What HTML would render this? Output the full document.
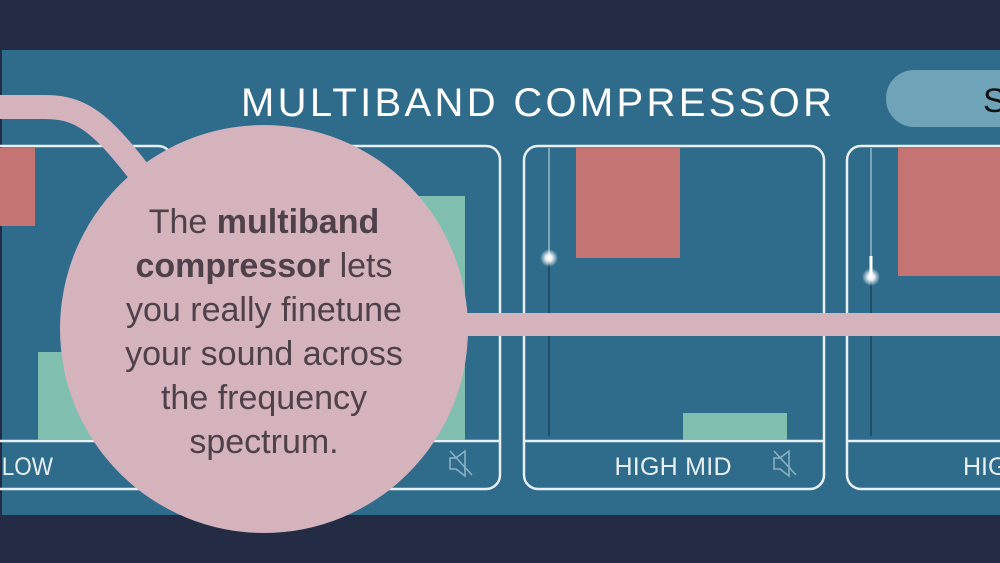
<!DOCTYPE html>
<html><head><meta charset="utf-8"><style>
html,body{margin:0;padding:0;background:#232b45;}
svg{display:block}
</style></head><body>
<svg width="1000" height="563" viewBox="0 0 1000 563" xmlns="http://www.w3.org/2000/svg">
<defs>
<radialGradient id="glow"><stop offset="0" stop-color="#fff"/><stop offset="0.35" stop-color="#fff" stop-opacity="0.9"/><stop offset="1" stop-color="#fff" stop-opacity="0"/></radialGradient>
</defs>
<rect width="1000" height="563" fill="#232b45"/>
<rect x="2" y="50" width="998" height="465" fill="#2f6b8b"/>
<text x="538" y="116" text-anchor="middle" font-family="Liberation Sans, sans-serif" font-size="40" fill="#fff" letter-spacing="3" textLength="594">MULTIBAND COMPRESSOR</text>
<rect x="886" y="70" width="160" height="57" rx="28" fill="#6fa3b8"/>
<text x="983" y="112" font-family="Liberation Sans, sans-serif" font-size="34" fill="#111">S</text>
<g fill="none" stroke="#e8f0f4" stroke-width="2.5">
<rect x="-124" y="146" width="296" height="343" rx="14"/>
<rect x="200" y="146" width="300" height="343" rx="14"/>
<rect x="524" y="146" width="300" height="343" rx="14"/>
<rect x="847" y="146" width="300" height="343" rx="14"/>
<line x1="0" y1="441" x2="172" y2="441"/>
<line x1="200" y1="441" x2="500" y2="441"/>
<line x1="524" y1="441" x2="824" y2="441"/>
<line x1="847" y1="441" x2="1000" y2="441"/>
</g>
<rect x="0" y="148" width="35" height="78" fill="#c37473"/>
<rect x="38" y="352" width="80" height="88" fill="#80bfb0"/>
<rect x="418" y="196" width="47" height="244" fill="#80bfb0"/>
<rect x="576" y="148" width="104" height="110" fill="#c37473"/>
<rect x="683" y="413" width="104" height="27" fill="#80bfb0"/>
<rect x="898" y="148" width="102" height="128" fill="#c37473"/>
<line x1="549" y1="148" x2="549" y2="436" stroke="#1f4f66" stroke-width="2"/>
<line x1="549" y1="148" x2="549" y2="258" stroke="#9fc3d3" stroke-width="1.5"/>
<circle cx="549" cy="258" r="9" fill="url(#glow)"/>
<line x1="871" y1="148" x2="871" y2="436" stroke="#1f4f66" stroke-width="2"/>
<line x1="871" y1="148" x2="871" y2="257" stroke="#9fc3d3" stroke-width="1.5"/>
<line x1="871" y1="256" x2="871" y2="277" stroke="#fff" stroke-width="3"/>
<circle cx="871" cy="277" r="9" fill="url(#glow)"/>
<g font-family="Liberation Sans, sans-serif" font-size="25" fill="#e8f0f4">
<text x="2" y="475" transform="scale(0.9,1)">LOW</text>
<text x="673" y="475" text-anchor="middle" textLength="117">HIGH MID</text>
<text x="963" y="475">HIG</text>
</g>
<g fill="none" stroke="#8fb2c4" stroke-width="1.5">
<path d="M774 458 h6 l9 -7 v25 l-9 -7 h-6 z M774 451 l22 24"/>
<path d="M450 458 h6 l9 -7 v25 l-9 -7 h-6 z M450 451 l22 24"/>
</g>
<path d="M0 107 L45 107 C85 107 105 125 160 200" fill="none" stroke="#d4b3bd" stroke-width="24"/>
<rect x="400" y="313" width="600" height="23" fill="#d4b3bd"/>
<circle cx="264" cy="329" r="204" fill="#d4b3bd"/>
<g font-family="Liberation Sans, sans-serif" font-size="34" fill="#4f4149" text-anchor="middle">
<text x="264" y="233">The <tspan font-weight="bold">multiband</tspan></text>
<text x="264" y="277"><tspan font-weight="bold">compressor</tspan> lets</text>
<text x="264" y="321">you really finetune</text>
<text x="264" y="365">your sound across</text>
<text x="264" y="409">the frequency</text>
<text x="264" y="453">spectrum.</text>
</g>
</svg>
</body></html>
